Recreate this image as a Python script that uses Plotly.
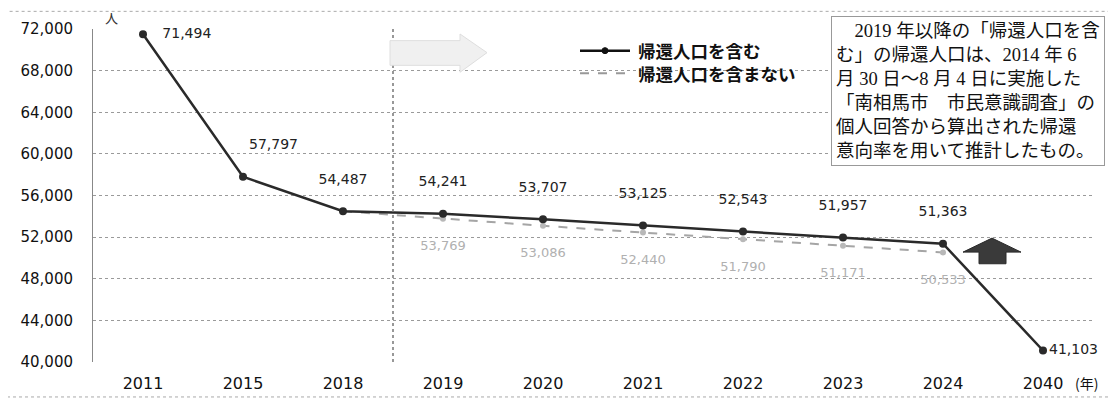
import plotly.graph_objects as go

categories = ["2011", "2015", "2018", "2019", "2020", "2021", "2022", "2023", "2024", "2040"]
with_return = [71494, 57797, 54487, 54241, 53707, 53125, 52543, 51957, 51363, 41103]
without_cats = ["2018", "2019", "2020", "2021", "2022", "2023", "2024"]
without_return = [54487, 53769, 53086, 52440, 51790, 51171, 50533]
tick_vals = [40000, 44000, 48000, 52000, 56000, 60000, 64000, 68000, 72000]
tick_text = [f"{v:,}" for v in tick_vals]
year_unit = "(年)"

font_main = "DejaVu Sans, Verdana, sans-serif"
jp = "Noto Sans CJK JP"
note_font = "Liberation Serif, Noto Sans CJK JP"

fig = go.Figure()

fig.add_trace(go.Scatter(
    x=without_cats, y=without_return, mode="lines+markers+text",
    line=dict(color="#a5a5a5", width=2, dash="dash"),
    marker=dict(size=6, color="#b8b8b8"),
    text=[""] + [" <br>" + f"{v:,}" for v in without_return[1:]],
    textposition="bottom center",
    textfont=dict(color="#b0b0b0", size=13, family=font_main),
    name="帰還人口を含まない", showlegend=False, cliponaxis=False,
))

lbl_text = []
lbl_pos = []
for i, v in enumerate(with_return):
    if i == 0:
        lbl_text.append("   " + f"{v:,}")
        lbl_pos.append("middle right")
    elif i == len(with_return) - 1:
        lbl_text.append(f"{v:,}")
        lbl_pos.append("middle right")
    elif i == 1:
        lbl_text.append(f"{v:,}<br> ")
        lbl_pos.append("top right")
    else:
        lbl_text.append(f"{v:,}<br> ")
        lbl_pos.append("top center")

fig.add_trace(go.Scatter(
    x=categories, y=with_return, mode="lines+markers+text",
    line=dict(color="#2a2a2a", width=2.5),
    marker=dict(size=8, color="#2a2a2a"),
    text=lbl_text,
    textposition=lbl_pos,
    textfont=dict(color="#222222", size=14, family=font_main),
    name="帰還人口を含む", showlegend=False, cliponaxis=False,
))

fig.update_layout(
    width=1116, height=400,
    margin=dict(l=85, r=31, t=15, b=46),
    paper_bgcolor="white", plot_bgcolor="white",
    showlegend=False,
    xaxis=dict(
        type="category", categoryorder="array", categoryarray=categories,
        tickvals=categories, ticktext=categories,
        showgrid=False, zeroline=False, showline=False, ticks="",
        ticklabelstandoff=10,
        tickfont=dict(size=16, family=font_main, color="#111"),
        range=[-0.5, 9.5],
    ),
    yaxis=dict(
        range=[40000, 72000], tickvals=tick_vals, ticktext=tick_text,
        showgrid=True, gridcolor="#9a9a9a", griddash="dot", gridwidth=1,
        zeroline=False, showline=True, linecolor="#888", linewidth=1,
        ticks="", ticklabelstandoff=16,
        tickfont=dict(size=15, family=font_main, color="#111"),
    ),
)

# year unit next to last tick
fig.add_annotation(xref="paper", yref="paper", x=0.98, y=-0.062, text=year_unit, showarrow=False,
                   xanchor="left", yanchor="middle", font=dict(size=14, family=jp, color="#111"))

# vertical dotted divider between 2018 and 2019
fig.add_shape(type="line", xref="x", yref="paper", x0=2.5, x1=2.5, y0=0, y1=1,
              line=dict(color="#777", width=1.5, dash="dot"))

# outer dotted frame
fig.add_shape(type="rect", xref="paper", yref="paper", x0=-0.086, x1=1.017, y0=-0.105, y1=1.053,
              line=dict(color="#aaa", width=1, dash="dot"))

# unit
fig.add_annotation(xref="paper", yref="paper", x=0.010, y=1.035, text="人", showarrow=False,
                   xanchor="left", yanchor="middle", font=dict(size=13, family=jp, color="#333"))

# legend (manual symbols + text)
fig.add_shape(type="line", xref="paper", yref="paper", x0=0.487, x1=0.537, y0=0.935, y1=0.935,
              line=dict(color="#111", width=2.5))
fig.add_shape(type="circle", xref="paper", yref="paper", x0=0.509, x1=0.515, y0=0.926, y1=0.944,
              fillcolor="#111", line=dict(color="#111", width=1))
fig.add_shape(type="line", xref="paper", yref="paper", x0=0.487, x1=0.537, y0=0.867, y1=0.867,
              line=dict(color="#999", width=2, dash="dash"))
fig.add_annotation(xref="paper", yref="paper", x=0.543, y=0.935, xanchor="left", yanchor="middle",
                   text="<b>帰還人口を含む</b>", showarrow=False,
                   font=dict(size=17.5, family=jp, color="#111"))
fig.add_annotation(xref="paper", yref="paper", x=0.543, y=0.867, xanchor="left", yanchor="middle",
                   text="<b>帰還人口を含まない</b>", showarrow=False,
                   font=dict(size=17.5, family=jp, color="#111"))

# note box
note = ("　2019 年以降の「帰還人口を含<br>む」の帰還人口は、2014 年 6<br>"
        "月 30 日～8 月 4 日に実施した<br>「南相馬市　市民意識調査」の<br>"
        "個人回答から算出された帰還<br>意向率を用いて推計したもの。")
fig.add_annotation(xref="paper", yref="paper", x=1.012, y=1.04, xanchor="right", yanchor="top",
                   text=note, showarrow=False, align="left",
                   font=dict(size=18.5, family=note_font, color="#111"),
                   bgcolor="white", bordercolor="#999", borderwidth=1, borderpad=4)

# faded block arrow near 2019 top
fig.add_shape(type="path", xref="paper", yref="paper",
              path="M 0.297 0.965 L 0.367 0.965 L 0.367 0.985 L 0.394 0.929 "
                   "L 0.367 0.870 L 0.367 0.891 L 0.297 0.891 Z",
              fillcolor="#f0f0f0", line=dict(color="#dedede", width=1))

# upward dark block arrow near 2040
fig.add_shape(type="path", xref="paper", yref="paper",
              path="M 0.899 0.372 L 0.928 0.330 L 0.913 0.330 L 0.913 0.295 "
                   "L 0.886 0.295 L 0.886 0.330 L 0.870 0.330 Z",
              fillcolor="#3a3a3a", line=dict(color="#2a2a2a", width=1))

fig.write_html("out.html")
